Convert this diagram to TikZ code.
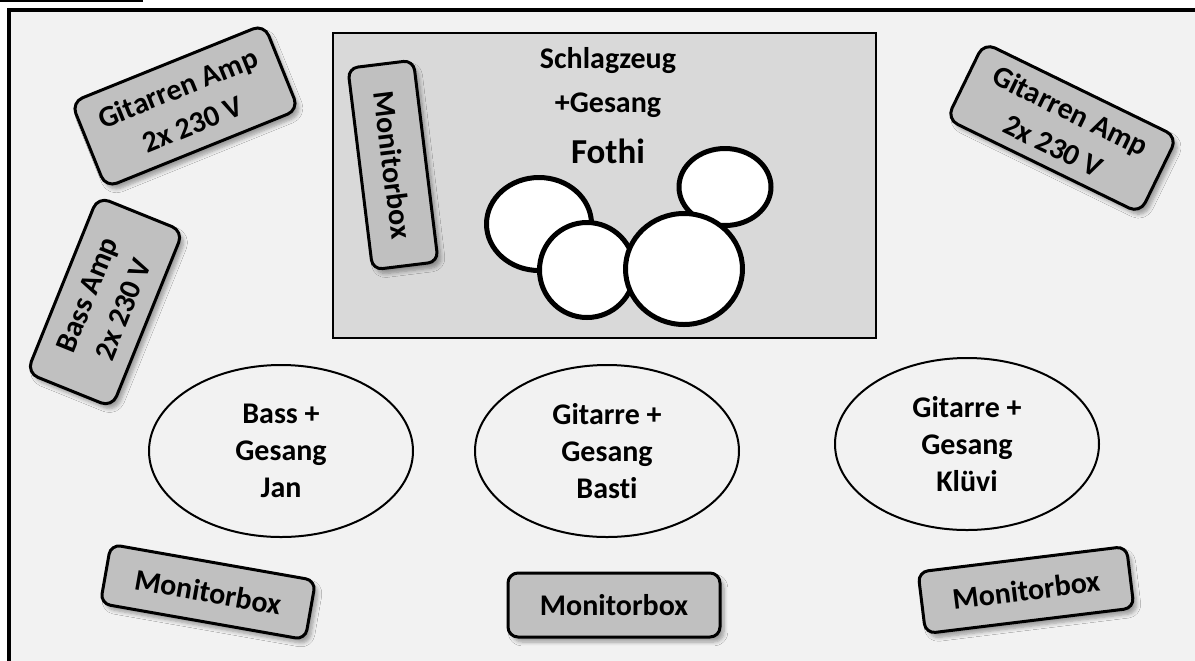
\documentclass[tikz,border=0pt]{standalone}
\usepackage{fontspec}
\setmainfont{Carlito}[Ligatures=NoCommon]
\usetikzlibrary{shapes.geometric,shadows.blur}

\definecolor{floorgray}{HTML}{F2F2F2}
\definecolor{boxgray}{HTML}{C0C0C0}
\definecolor{risergray}{HTML}{D9D9D9}

\tikzset{
  gear/.style={draw, line width=1.5pt, fill=boxgray, rounded corners=6pt,
    inner sep=0pt, align=center, font=\fontsize{15}{19.5}\selectfont\bfseries,
    blur shadow={shadow xshift=2pt, shadow yshift=-2.5pt, shadow blur steps=6, shadow opacity=35}},
  player/.style={draw, ellipse, line width=1pt, fill=floorgray, minimum width=132pt,
    minimum height=86pt, inner sep=0pt, align=center, font=\fontsize{15}{18.5}\selectfont\bfseries},
  drum/.style={draw, ellipse, line width=2.5pt, fill=white, inner sep=0pt},
  drumtext/.style={anchor=base, inner sep=0pt, font=\fontsize{15}{18}\selectfont\bfseries}
}

\begin{document}
\begin{tikzpicture}[x=0.5pt,y=-0.5pt]
\useasboundingbox (0,0) rectangle (1195,660);
\fill[white] (0,0) rectangle (1195,660);
\clip (0,0) rectangle (1195,660);
\draw[line width=0.8pt] (0,0.8) -- (143,0.8);
\draw[line width=2pt, fill=floorgray] (9,10) rectangle (1220,690);

% drum riser
\node[draw, line width=0.8pt, fill=risergray, minimum width=271.5pt, minimum height=152.5pt, inner sep=0pt] (riser) at (604.5,185.5) {};
\node[drumtext] (schlag) at (608,68) {Schlagzeug};
\node[drumtext] (gesang) at (608,112) {+Gesang};
\node[drumtext, font=\fontsize{17.5}{20}\selectfont\bfseries] (fothi) at (608,163) {Fothi};

% drums
\node[drum, minimum width=52.5pt, minimum height=46.5pt] (tomleft) at (539,224) {};
\node[drum, minimum width=46pt, minimum height=38.5pt] (tomright) at (725,187) {};
\node[drum, minimum width=47.5pt, minimum height=47.5pt] (snare) at (587,270) {};
\node[drum, minimum width=58.5pt, minimum height=55.5pt] (floortom) at (684,269) {};

% amps
\node[gear, minimum width=104pt, minimum height=46pt, rotate=22] (gitampl) at (185,106) {Gitarren Amp\\2x 230 V};
\node[gear, minimum width=107.5pt, minimum height=42.5pt, rotate=-26] (gitampr) at (1062,128) {Gitarren Amp\\2x 230 V};
\node[gear, minimum width=95pt, minimum height=46pt, rotate=68] (bassamp) at (105,302) {Bass Amp\\2x 230 V};

% monitors
\node[gear, rounded corners=5pt, minimum width=101.5pt, minimum height=33pt, rotate=-83] (mondrum) at (393,165) {Monitorbox};
\node[gear, rounded corners=5pt, minimum width=104pt, minimum height=30pt, rotate=-10] (monl) at (208,592) {Monitorbox};
\node[gear, rounded corners=5pt, minimum width=106pt, minimum height=32pt] (monm) at (614,605) {Monitorbox};
\node[gear, rounded corners=5pt, minimum width=105pt, minimum height=31pt, rotate=7] (monr) at (1026,590) {Monitorbox};

% players
\node[player] (jan) at (281,451) {Bass +\\Gesang\\Jan};
\node[player] (basti) at (607,451) {Gitarre +\\Gesang\\Basti};
\node[player] (kluevi) at (967,444) {Gitarre +\\Gesang\\Klüvi};

\end{tikzpicture}
\end{document}
